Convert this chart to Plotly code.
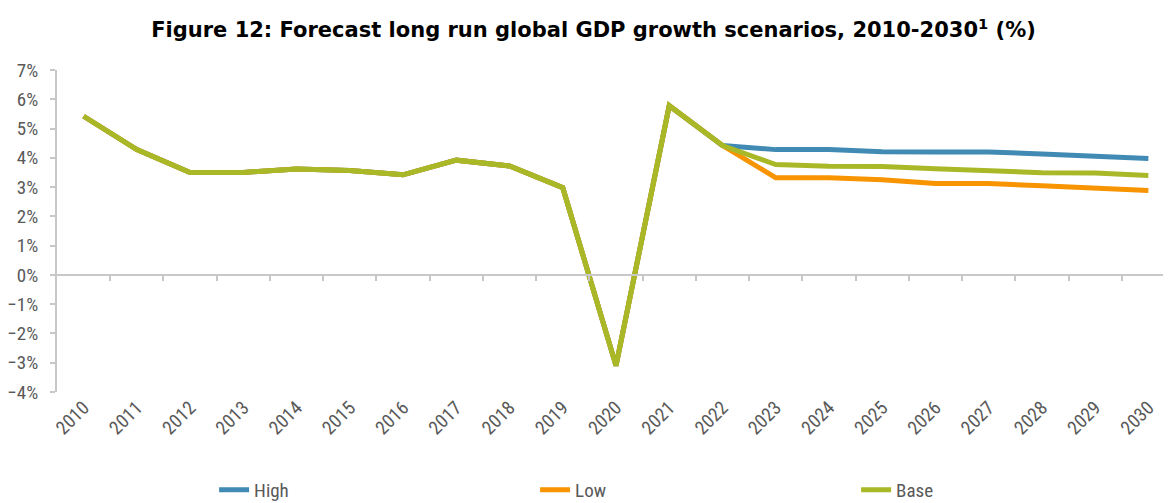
import plotly.graph_objects as go

years = list(range(2010, 2031))

high = [5.42, 4.28, 3.5, 3.5, 3.62, 3.57, 3.42, 3.92, 3.72, 2.98, -3.1, 5.78, 4.42,
        4.28, 4.28, 4.21, 4.2, 4.2, 4.13, 4.06, 3.98]
low = [5.42, 4.28, 3.5, 3.5, 3.62, 3.57, 3.42, 3.92, 3.72, 2.98, -3.1, 5.78, 4.42,
       3.32, 3.32, 3.25, 3.12, 3.12, 3.05, 2.97, 2.88]
base = [5.42, 4.28, 3.5, 3.5, 3.62, 3.57, 3.42, 3.92, 3.72, 2.98, -3.1, 5.78, 4.42,
        3.77, 3.71, 3.7, 3.63, 3.56, 3.49, 3.48, 3.4]

series = [("High", high, "#418ab3"), ("Low", low, "#f79400"), ("Base", base, "#a8b826")]

tick_labels = [str(y) for y in years]
between = [y + 0.5 for y in years[:-1]]

font_axis = "Liberation Sans Narrow, Roboto Condensed, Liberation Sans, Arial"

fig = go.Figure()
for name, vals, col in series:
    fig.add_trace(go.Scatter(x=years, y=vals, name=name, mode="lines",
                             line=dict(color=col, width=5)))

# empty trace so the category-separator axis on the 0% line gets drawn
fig.add_trace(go.Scatter(x=years, y=[None] * len(years), xaxis="x2", yaxis="y",
                         showlegend=False, hoverinfo="skip"))

# note: the html page adds an 8px body margin, margins below allow for it
fig.update_layout(
    width=1171, height=503,
    margin=dict(l=49, r=4, t=62, b=119, autoexpand=False),
    paper_bgcolor="white", plot_bgcolor="white",
    title=dict(text="Figure 12: Forecast long run global GDP growth scenarios, 2010-2030<sup>1</sup> (%)",
               x=0.5, xanchor="center", y=0.956, yanchor="middle",
               font=dict(family="DejaVu Sans", size=21, color="black", weight="bold")),
    font=dict(family=font_axis, size=19, color="#595959"),
    showlegend=True,
    legend=dict(orientation="h", xref="container", yref="container",
                x=0.176, y=0.042, xanchor="left", yanchor="middle",
                entrywidth=276, entrywidthmode="pixels",
                font=dict(family=font_axis, size=19, color="#595959")),
    xaxis=dict(range=[2009.5, 2030.5], tickvals=years, ticktext=tick_labels,
               tickangle=-45, showgrid=False, showline=False, ticks="",
               zeroline=False, automargin=False),
    xaxis2=dict(range=[2009.5, 2030.5], overlaying="x", anchor="free",
                position=4 / 11, side="bottom", tickvals=between,
                showticklabels=False, ticks="outside", ticklen=5,
                tickwidth=2, tickcolor="#c8c8c8", showline=True,
                linecolor="#c8c8c8", linewidth=2, showgrid=False, zeroline=False),
    yaxis=dict(range=[-4, 7], dtick=1, tick0=0, ticksuffix="%",
               showgrid=False, zeroline=False, showline=True, automargin=False,
               linecolor="#c8c8c8", linewidth=2, ticks="outside", ticklen=5,
               tickwidth=2, tickcolor="#c8c8c8", ticklabelstandoff=8),
)

fig.write_html("out.html")
